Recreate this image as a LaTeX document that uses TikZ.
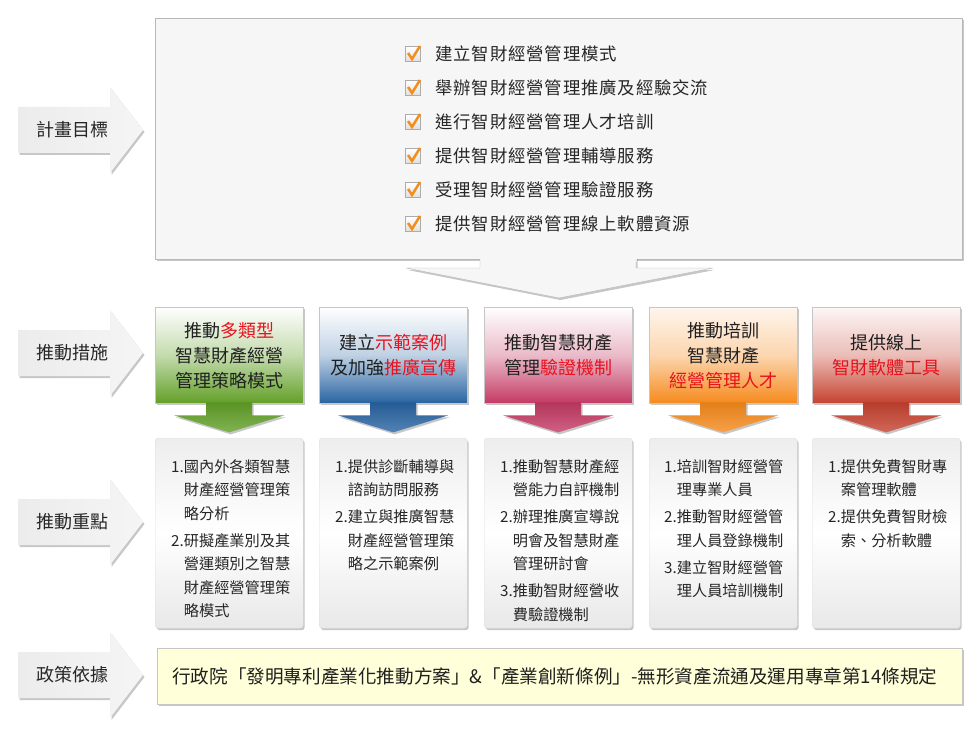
\documentclass[tikz,border=0pt]{standalone}
\usepackage{fontspec}
\setmainfont{Noto Sans CJK TC}
\usetikzlibrary{shadows}
\definecolor{cG}{RGB}{98,160,40}
\definecolor{cB}{RGB}{40,100,162}
\definecolor{cP}{RGB}{196,58,100}
\definecolor{cO}{RGB}{246,138,28}
\definecolor{cR}{RGB}{198,66,48}
\definecolor{hired}{RGB}{232,18,30}
\definecolor{tickc}{RGB}{242,142,28}
\definecolor{polyc}{RGB}{255,255,217}
\newcommand\hl[1]{\textcolor{hired}{#1}}
\newcommand\ind{\phantom{1.}}
\begin{document}
\begin{tikzpicture}[x=1pt,y=-1pt,
  shadowed/.style={drop shadow={shadow xshift=1.5pt,shadow yshift=-2pt,fill=black,opacity=0.22}},
  lbl/.style={font=\fontsize{18}{22}\selectfont,text=black!85},
  goaltext/.style={font=\fontsize{17.4}{20}\selectfont\addfontfeature{LetterSpace=5}},
  chk/.style={draw=gray!65,top color=white,bottom color=gray!25,minimum size=15,inner sep=0},
  tick/.style={draw=tickc,line width=2.5pt},
  mbox/.style={draw=gray!45,minimum width=148,minimum height=96,anchor=north west,align=center,font=\fontsize{18}{25}\selectfont,text=black!88,shadowed},
  dbox/.style={draw=gray!25,rounded corners=3pt,minimum width=148,minimum height=190,anchor=north west,top color=gray!14,bottom color=gray!18,middle color=white,shadowed},
  dtext/.style={anchor=north west,inner sep=0,align=left,font=\fontsize{15.2}{23.5}\selectfont,text=black!85},
  sarrow/.style={left color=gray!15,right color=gray!8,shadowed},
]
\useasboundingbox (0,0) rectangle (980,738);
\fill[white] (0,0) rectangle (980,738);

% side arrows
\newcommand\sidearrow[3]{%
  \path[sarrow] (18,#2-23) -- (110,#2-23) -- (110,#2-43) -- (143,#2) -- (110,#2+43) -- (110,#2+23) -- (18,#2+23) -- cycle;
  \node[lbl] (#1) at (72,#2) {#3};}
\sidearrow{s1}{130}{計畫目標}
\sidearrow{s2}{353}{推動措施}
\sidearrow{s3}{522}{推動重點}
\sidearrow{s4}{675}{政策依據}

% goal box
\node[draw=gray!55,fill=gray!7,minimum width=807,minimum height=241,anchor=north west,inner sep=0,shadowed] (goal) at (155,18) {};
\fill[gray!7,shadowed] (480,257) -- (480,268) -- (406,268) -- (559,298) -- (713,268) -- (636,268) -- (636,257) -- cycle;
\fill[gray!7] (479.5,256) rectangle (636.5,262);
\draw[gray!55] (480,259.5) -- (480,268) -- (406,268) -- (559,298) -- (713,268) -- (636,268) -- (636,259.5);

\foreach \i/\y/\t in {1/54/建立智財經營管理模式,2/88/舉辦智財經營管理推廣及經驗交流,3/122/進行智財經營管理人才培訓,4/156/提供智財經營管理輔導服務,5/190/受理智財經營管理驗證服務,6/224/提供智財經營管理線上軟體資源}{
  \node[chk] (k\i) at (413,\y) {};
  \draw[tick] (k\i.center) ++(-5,-1) -- ++(4,6) -- ++(8,-13);
  \node[anchor=west,inner sep=0,text=black!85,goaltext] (c\i) at (435,\y) {\t};
}

% measure boxes
\node[mbox,top color=white,bottom color=cG,middle color=cG!38!white] (m1) at (155,307) {推動\hl{多類型}\\智慧財產經營\\管理策略模式};
\node[mbox,top color=white,bottom color=cB,middle color=cB!30!white] (m2) at (319,307) {建立\hl{示範案例}\\及加強\hl{推廣宣傳}};
\node[mbox,top color=white,bottom color=cP,middle color=cP!35!white] (m3) at (484,307) {推動智慧財產\\管理\hl{驗證機制}};
\node[mbox,top color=cO!8!white,bottom color=cO,middle color=cO!35!white] (m4) at (649,307) {推動培訓\\智慧財產\\\hl{經營管理人才}};
\node[mbox,top color=cR!5!white,bottom color=cR,middle color=cR!35!white] (m5) at (812,307) {提供線上\\\hl{智財軟體工具}};

\foreach \n/\c in {m1/cG,m2/cB,m3/cP,m4/cO,m5/cR}{
  \path[top color=\c!92!black,bottom color=\c!80!white,shadowed] (\n.south) ++(-23,-1) -- ++(0,13) -- ++(-32,0) -- ++(55,17) -- ++(55,-17) -- ++(-32,0) -- ++(0,-13) -- cycle;
}

% detail boxes
\node[dbox] (d1) at (155,438) {};
\node[dbox] (d2) at (319,438) {};
\node[dbox] (d3) at (484,438) {};
\node[dbox] (d4) at (649,438) {};
\node[dbox] (d5) at (812,438) {};

\node[dtext] (t1) at (171,459) {1.國內外各類智慧\\\ind 財產經營管理策\\\ind 略分析\\[3.5pt]2.研擬產業別及其\\\ind 營運類別之智慧\\\ind 財產經營管理策\\\ind 略模式};
\node[dtext] (t2) at (335,459) {1.提供診斷輔導與\\\ind 諮詢訪問服務\\[3.5pt]2.建立與推廣智慧\\\ind 財產經營管理策\\\ind 略之示範案例};
\node[dtext] (t3) at (500,459) {1.推動智慧財產經\\\ind 營能力自評機制\\[3.5pt]2.辦理推廣宣導說\\\ind 明會及智慧財產\\\ind 管理研討會\\[3.5pt]3.推動智財經營收\\\ind 費驗證機制};
\node[dtext] (t4) at (664,459) {1.培訓智財經營管\\\ind 理專業人員\\[3.5pt]2.推動智財經營管\\\ind 理人員登錄機制\\[3.5pt]3.建立智財經營管\\\ind 理人員培訓機制};
\node[dtext] (t5) at (828,459) {1.提供免費智財專\\\ind 案管理軟體\\[3.5pt]2.提供免費智財檢\\\ind 索、分析軟體};

% policy
\node[draw=gray!45,fill=polyc,minimum width=805,minimum height=56,anchor=north west,inner sep=0,shadowed] (pol) at (157,648) {};
\node[anchor=west,inner sep=0,font=\fontsize{18.6}{20}\selectfont,text=black!88] (polt) at (172,676) {行政院「發明專利產業化推動方案」\&「產業創新條例」-無形資產流通及運用專章第14條規定};
\end{tikzpicture}
\end{document}
